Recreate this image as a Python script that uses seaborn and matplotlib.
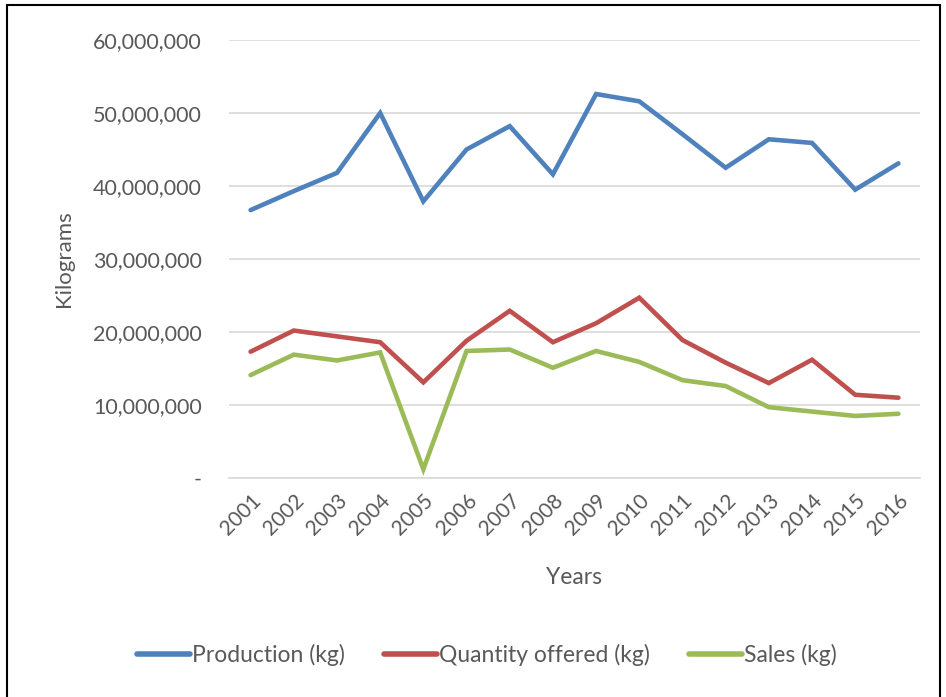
import matplotlib
matplotlib.use("Agg")
import matplotlib.pyplot as plt
import matplotlib.ticker as mticker
from matplotlib.patches import Rectangle
from matplotlib.lines import Line2D
import seaborn as sns
import pandas as pd

years = [str(y) for y in range(2001, 2017)]
production = [36.7, 39.3, 41.8, 50.0, 37.9, 45.0, 48.2, 41.6, 52.6, 51.6, 47.1, 42.5, 46.4, 45.9, 39.5, 43.1]
offered = [17.3, 20.2, 19.4, 18.6, 13.1, 18.8, 22.9, 18.6, 21.2, 24.7, 18.9, 15.8, 13.0, 16.2, 11.4, 11.0]
sales = [14.1, 16.9, 16.1, 17.2, 1.2, 17.4, 17.6, 15.1, 17.4, 15.9, 13.4, 12.6, 9.7, 9.1, 8.5, 8.8]
series_names = ["Production (kg)", "Quantity offered (kg)", "Sales (kg)"]
colors = ["#4F81BD", "#C0504D", "#9BBB59"]
y_ticks = [0, 10e6, 20e6, 30e6, 40e6, 50e6, 60e6]

rows = []
for name, vals in zip(series_names, [production, offered, sales]):
    for i, (yr, v) in enumerate(zip(years, vals)):
        rows.append({"idx": i, "Year": yr, "Series": name, "Value": v * 1e6})
df = pd.DataFrame(rows)

sns.set_theme(style="white")
plt.rcParams["font.family"] = ["Lato", "DejaVu Sans"]
text_color = "#595959"

fig = plt.figure(figsize=(9.46, 6.97), dpi=100)
ax = fig.add_axes([229 / 946, 1 - 478 / 697, (920 - 229) / 946, (478 - 40) / 697])

sns.lineplot(data=df, x="idx", y="Value", hue="Series", palette=colors,
             hue_order=series_names, linewidth=3.3, ax=ax, legend=False,
             solid_capstyle="round", solid_joinstyle="miter")

ax.set_xlim(-0.5, len(years) - 0.5)
ax.set_ylim(0, 60e6)
ax.set_yticks(y_ticks)
ax.yaxis.set_major_formatter(mticker.FuncFormatter(
    lambda v, p: "-" if v == 0 else f"{int(v):,}"))
ax.set_xticks(range(len(years)))
ax.set_xticklabels(years, rotation=45, ha="right", rotation_mode="anchor")
ax.grid(axis="y", color="#D9D9D9", linewidth=1.2)
ax.set_axisbelow(True)
for s in ["top", "right", "left"]:
    ax.spines[s].set_visible(False)
ax.spines["bottom"].set_color("#D9D9D9")
ax.spines["bottom"].set_linewidth(1.2)
ax.tick_params(axis="y", length=0, pad=19.5, labelsize=15.5, labelcolor=text_color)
ax.tick_params(axis="x", length=0, pad=9, labelsize=15, labelcolor=text_color)

ax.set_xlabel("Years", fontsize=16.5, color=text_color, labelpad=20)
ax.set_ylabel("Kilograms", fontsize=16, color=text_color, labelpad=14)

handles = [Line2D([0], [0], color=c, linewidth=4, solid_capstyle="round") for c in colors]
fig.legend(handles, series_names, loc="center", bbox_to_anchor=(0.515, 1 - 655 / 697),
           ncol=3, frameon=False, fontsize=16.5, labelcolor=text_color,
           handlelength=2.3, handletextpad=0.1, columnspacing=1.7)

fig.add_artist(Rectangle((7 / 946, -0.01), (940 - 7) / 946, 1 - 5 / 697 + 0.01,
                         transform=fig.transFigure, fill=False, edgecolor="black",
                         linewidth=1.5))

fig.savefig("out.png", dpi=100)
